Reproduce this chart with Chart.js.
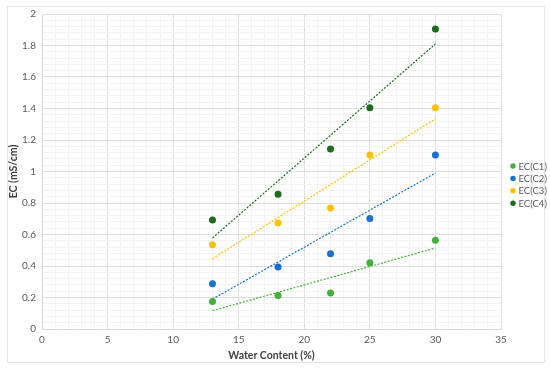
<!DOCTYPE html>
<html>
<head>
<meta charset="utf-8">
<script src="https://cdn.jsdelivr.net/npm/chart.js@4/dist/chart.umd.min.js"></script>
<style>
  html, body { margin: 0; padding: 0; background: #fff; }
  #wrap { width: 550px; height: 369px; }
</style>
</head>
<body>
<div id="wrap"><canvas id="ec_chart" width="550" height="369"></canvas></div>
<script>
// water content (%) for every sample
const water_content = [13, 18, 22, 25, 30];

// EC readings (mS/cm) per series
const ec_c1 = [0.175, 0.213, 0.228, 0.42, 0.563];
const ec_c2 = [0.288, 0.394, 0.478, 0.702, 1.105];
const ec_c3 = [0.535, 0.673, 0.768, 1.105, 1.405];
const ec_c4 = [0.692, 0.855, 1.143, 1.405, 1.905];

// linear trendline ends (at x = 13 and x = 30)
const trend_x = [13, 30];
const trend_c1 = [0.116, 0.514];
const trend_c2 = [0.19, 0.99];
const trend_c3 = [0.446, 1.335];
const trend_c4 = [0.578, 1.81];

const series_labels = ['EC(C1)', 'EC(C2)', 'EC(C3)', 'EC(C4)'];
const colours = ['#44b03a', '#1a6fd0', '#ffc000', '#1d6b1d'];

const FONT = 'Lato, "Open Sans", sans-serif';

function toPoints(xs, ys) {
    var pts = [];
    for (var i = 0; i < xs.length; i++) {
        pts.push({ x: xs[i], y: ys[i] });
    }
    return pts;
}

const values = [ec_c1, ec_c2, ec_c3, ec_c4];
const trends = [trend_c1, trend_c2, trend_c3, trend_c4];

const datasets = [];
for (var i = 0; i < values.length; i++) {
    datasets.push({
        type: 'scatter',
        label: series_labels[i],
        data: toPoints(water_content, values[i]),
        backgroundColor: colours[i],
        borderColor: colours[i],
        pointRadius: 3.5,
        pointBorderWidth: 0,
        order: 0
    });
}
for (var i = 0; i < trends.length; i++) {
    datasets.push({
        type: 'line',
        label: 'trend ' + series_labels[i],
        isTrend: true,
        data: toPoints(trend_x, trends[i]),
        borderColor: colours[i],
        borderWidth: 1.2,
        borderDash: [2, 1.5],
        pointRadius: 0,
        fill: false,
        order: 1
    });
}

// frame round the whole chart + the legend on the right
const framePlugin = {
    id: 'frame',
    beforeDraw(chart) {
        const ctx = chart.ctx;
        ctx.save();
        ctx.fillStyle = '#ffffff';
        ctx.fillRect(0, 0, chart.width, chart.height);
        ctx.strokeStyle = '#e6e6e6';
        ctx.lineWidth = 1;
        ctx.strokeRect(7.5, 6.5, 537, 356);
        ctx.restore();
    },
    afterDraw(chart) {
        const ctx = chart.ctx;
        ctx.save();
        ctx.font = '9.5px ' + FONT;
        ctx.textBaseline = 'middle';
        ctx.textAlign = 'left';
        var y = 166;
        chart.data.datasets.forEach(function (ds) {
            if (ds.isTrend) return;
            ctx.fillStyle = ds.backgroundColor;
            ctx.beginPath();
            ctx.arc(513, y, 2.7, 0, Math.PI * 2);
            ctx.fill();
            ctx.fillStyle = '#595959';
            ctx.fillText(ds.label, 518.5, y + 0.5);
            y += 12.4;
        });
        ctx.restore();
    }
};

const major_grid = '#dedede';
const minor_grid = '#f3f3f3';

var canvas = document.getElementById('ec_chart');
var chart = new Chart(canvas, {
    type: 'scatter',
    data: { datasets: datasets },
    options: {
        responsive: false,
        animation: false,
        layout: { padding: { left: 7, top: 14, right: 49, bottom: 7 } },
        plugins: {
            legend: { display: false },
            tooltip: { enabled: false }
        },
        scales: {
            x: {
                type: 'linear',
                min: 0,
                max: 35,
                ticks: {
                    stepSize: 1,
                    autoSkip: false,
                    maxRotation: 0,
                    padding: 5,
                    color: '#595959',
                    font: { family: FONT, size: 10 },
                    callback: function (v, idx) { return idx % 5 === 0 ? String(v) : ''; }
                },
                grid: {
                    drawTicks: false,
                    tickLength: 0,
                    color: function (c) { return c.index % 5 === 0 ? major_grid : minor_grid; }
                },
                border: { color: '#d9d9d9' },
                title: {
                    display: true,
                    text: 'Water Content (%)',
                    color: '#404040',
                    font: { family: FONT, size: 10.5, weight: 'bold' },
                    padding: { top: 1, bottom: 0 }
                },
                afterFit: function (scale) { scale.height = 33; }
            },
            y: {
                min: 0,
                max: 2,
                ticks: {
                    stepSize: 0.04,
                    autoSkip: false,
                    padding: 6,
                    color: '#595959',
                    font: { family: FONT, size: 10 },
                    callback: function (v, idx) {
                        return idx % 5 === 0 ? String(Number(v.toFixed(1))) : '';
                    }
                },
                grid: {
                    drawTicks: false,
                    tickLength: 0,
                    color: function (c) { return c.index % 5 === 0 ? major_grid : minor_grid; }
                },
                border: { color: '#d9d9d9' },
                title: {
                    display: true,
                    text: 'EC (mS/cm)',
                    color: '#404040',
                    font: { family: FONT, size: 10.5, weight: 'bold' },
                    padding: { top: 0, bottom: 0 }
                },
                afterFit: function (scale) { scale.width = 35; }
            }
        }
    },
    plugins: [framePlugin]
});
</script>
</body>
</html>
